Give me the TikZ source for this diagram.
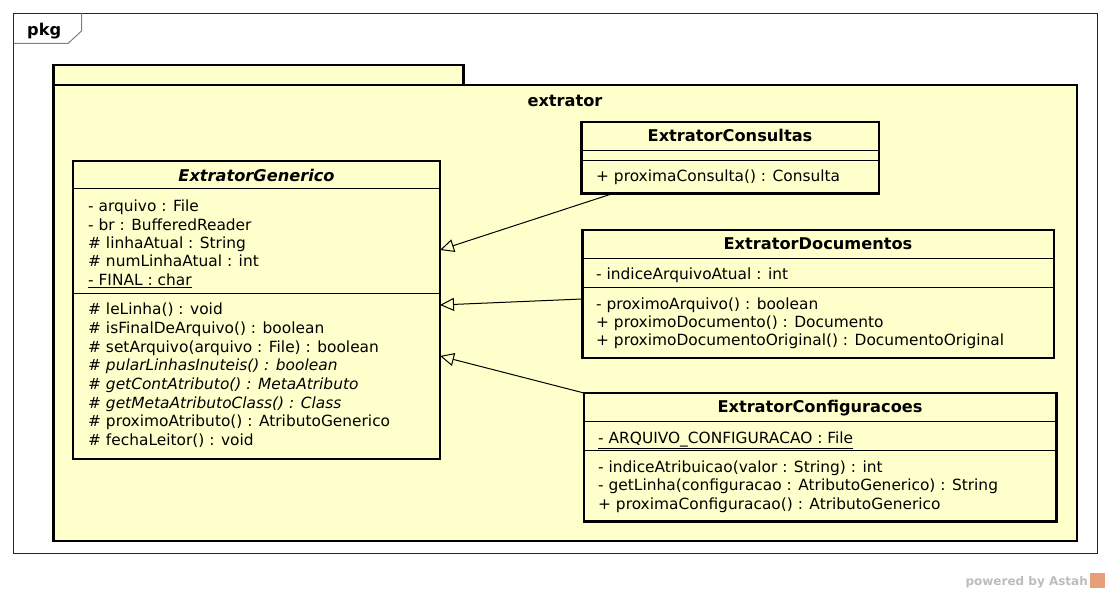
\documentclass[tikz,border=0pt]{standalone}
\usepackage{fontspec}
\setmainfont{DejaVu Sans}
\usetikzlibrary{arrows.meta}
\definecolor{pkgyellow}{HTML}{FFFFCC}
\definecolor{markgray}{HTML}{BDBDBD}
\definecolor{markorange}{HTML}{E99E7A}
\tikzset{
  classbox/.style={draw, line width=2.6pt, fill=pkgyellow, inner sep=0pt, outer sep=0pt, anchor=north west},
  member/.style={anchor=base west, inner sep=0pt, font=\fontsize{15.4}{18}\selectfont},
  classname/.style={anchor=base, inner sep=0pt, font=\fontsize{16.2}{18}\selectfont\bfseries},
  sep/.style={line width=1pt},
  inherit/.style={line width=1pt, -{Triangle[open, length=14pt, width=13pt]}},
}
\begin{document}
\begin{tikzpicture}[x=1pt, y=-1pt]
\useasboundingbox[fill=white] (0,0) rectangle (1110,593);

% Frame
\draw[line width=1pt, black!85] (13.5,13.5) rectangle (1097,553);
\draw[line width=1pt, gray] (13.5,43.5) -- (68,43.5) -- (81.5,31) -- (81.5,13.5);
\node[classname, anchor=base west] (pkg) at (27,36) {pkg};

% Package extrator
\draw[classbox] (53.5,65) rectangle (463.5,85);
\node[classbox, minimum width=1023.5pt, minimum height=456pt] (extrator) at (53.5,85) {};
\node[classname] (extratorname) at (565,107) {extrator};

% ExtratorGenerico
\node[classbox, minimum width=367pt, minimum height=298pt] (generico) at (73,161) {};
\node[classname, font=\fontsize{16.2}{18}\selectfont\bfseries\itshape] (genericoname) at (256.5,181.5) {ExtratorGenerico};
\draw[sep] (generico.west |- 0,189) -- (generico.east |- 0,189);
\draw[sep] (generico.west |- 0,294) -- (generico.east |- 0,294);
\foreach \txt [count=\i from 0] in {- arquivo : File, - br : BufferedReader,
    \# linhaAtual : String, \# numLinhaAtual : int, \underline{- FINAL : char}}
  \node[member] (gattr\i) at (88,212+18.3*\i) {\txt};
\foreach \txt [count=\i from 0] in {\# leLinha() : void, \# isFinalDeArquivo() : boolean,
    \# setArquivo(arquivo : File) : boolean, {\itshape \# pularLinhasInuteis() : boolean},
    {\itshape \# getContAtributo() : MetaAtributo}, {\itshape \# getMetaAtributoClass() : Class},
    \# proximoAtributo() : AtributoGenerico, \# fechaLeitor() : void}
  \node[member] (gmeth\i) at (88,315+18.6*\i) {\txt};

% ExtratorConsultas
\node[classbox, minimum width=297.5pt, minimum height=71.5pt] (consultas) at (581.5,122) {};
\node[classname] (consultasname) at (730,141.5) {ExtratorConsultas};
\draw[sep] (consultas.west |- 0,150.5) -- (consultas.east |- 0,150.5);
\draw[sep] (consultas.west |- 0,160.5) -- (consultas.east |- 0,160.5);
\node[member] (cmeth0) at (596,181.5) {+ proximaConsulta() : Consulta};

% ExtratorDocumentos
\node[classbox, minimum width=471.5pt, minimum height=128pt] (documentos) at (582.5,230) {};
\node[classname] (documentosname) at (818,250) {ExtratorDocumentos};
\draw[sep] (documentos.west |- 0,258.5) -- (documentos.east |- 0,258.5);
\draw[sep] (documentos.west |- 0,287.5) -- (documentos.east |- 0,287.5);
\node[member] (dattr0) at (596,280) {- indiceArquivoAtual : int};
\foreach \txt [count=\i from 0] in {- proximoArquivo() : boolean, + proximoDocumento() : Documento,
    + proximoDocumentoOriginal() : DocumentoOriginal}
  \node[member] (dmeth\i) at (596,309+18.4*\i) {\txt};

% ExtratorConfiguracoes
\node[classbox, minimum width=472.5pt, minimum height=128.5pt] (configuracoes) at (584,393) {};
\node[classname] (configuracoesname) at (820,412.5) {ExtratorConfiguracoes};
\draw[sep] (configuracoes.west |- 0,421.5) -- (configuracoes.east |- 0,421.5);
\draw[sep] (configuracoes.west |- 0,450) -- (configuracoes.east |- 0,450);
\node[member] (fattr0) at (598,443) {\underline{- ARQUIVO\_CONFIGURACAO : File}};
\foreach \txt [count=\i from 0] in {- indiceAtribuicao(valor : String) : int,
    - getLinha(configuracao : AtributoGenerico) : String, + proximaConfiguracao() : AtributoGenerico}
  \node[member] (fmeth\i) at (598,472.3+18.5*\i) {\txt};

% Generalizations
\draw[inherit] ([xshift=31.5pt]consultas.south west) -- ([yshift=60pt]generico.east);
\draw[inherit] ([yshift=-5pt]documentos.west) -- ([yshift=5pt]generico.east);
\draw[inherit] (configuracoes.north west) -- ([yshift=-46pt]generico.east);

% Watermark
\node[anchor=base east, inner sep=0pt, text=markgray, font=\fontsize{12}{14}\selectfont\bfseries] (powered) at (1088,585) {powered by Astah};
\fill[markorange] (1089.5,572.5) rectangle (1105,588);
\end{tikzpicture}
\end{document}
